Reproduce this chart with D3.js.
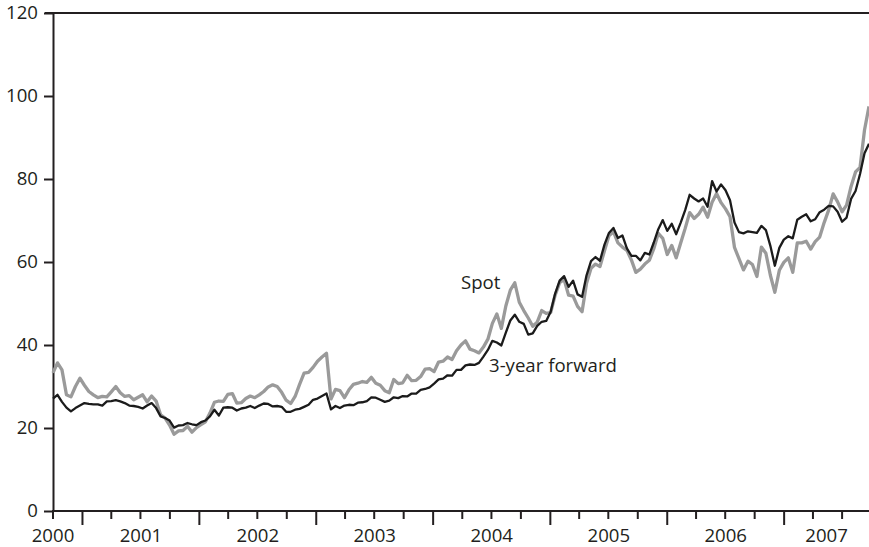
<!DOCTYPE html>
<html>
<head>
<meta charset="utf-8">
<script src="https://cdn.jsdelivr.net/npm/d3@7/dist/d3.min.js"></script>
<style>
  html, body { margin: 0; padding: 0; background: #fff; }
  svg { display: block; }
  text { font-family: "Open Sans", "Noto Sans", sans-serif; fill: #231f20; }
</style>
</head>
<body>
<svg id="chart" width="869" height="547"></svg>
<script>
// ---- data (biweekly observations, Oct 2000 – Sep 2007) ----
const startDate = "2000-10-01";
const stepDays = 14;

const spot = [
  33.3, 35.7, 34, 28, 27.5, 30, 32, 30.3, 28.8, 28,
  27.3, 27.6, 27.5, 28.7, 30, 28.5, 27.6, 27.8, 26.8, 27.4,
  28, 26.3, 27.7, 26.5, 23.2, 22.4, 20.7, 18.5, 19.3, 19.4,
  20.4, 19, 20.1, 20.8, 21.5, 23.6, 26.2, 26.5, 26.4, 28.1,
  28.3, 26, 26.1, 27.1, 27.7, 27.3, 28, 28.8, 29.9, 30.4,
  30, 28.6, 26.7, 25.9, 27.6, 30.5, 33.2, 33.4, 34.6, 36.1,
  37.1, 38, 27, 29.3, 29, 27.3, 29.2, 30.5, 30.8, 31.2,
  31, 32.2, 30.8, 30.3, 29, 28.5, 31.7, 30.7, 30.9, 32.7,
  31.4, 31.5, 32.4, 34.2, 34.3, 33.6, 35.9, 36.1, 37.1, 36.5,
  38.6, 40, 41, 39, 38.6, 38.1, 39.5, 41.4, 45.2, 47.5,
  44, 49.4, 53.2, 55, 50.3, 48.3, 46.5, 44.5, 45.5, 48.3,
  47.6, 47.8, 52, 55, 55.8, 52, 51.8, 49.3, 48, 54.9,
  58.5, 59.5, 58.9, 62.7, 66.3, 67.3, 64.6, 63.6, 62.8, 60.5,
  57.5, 58.3, 59.5, 60.4, 63.2, 66.9, 65.7, 61.8, 64, 61,
  64.6, 68.1, 71.9, 70.5, 71.5, 73.2, 70.8, 74.4, 76.5, 74.3,
  72.8, 70.9, 63.5, 60.8, 58.1, 60.2, 59.4, 56.5, 63.6, 62.1,
  56.8, 52.7, 58, 59.9, 61, 57.5, 64.6, 64.6, 65, 63.1,
  64.9, 66, 69.5, 72.5, 76.4, 74.5, 72.1, 73.7, 78.2, 81.7,
  82.8, 91.8, 97.5
];

const forward = [
  27.1, 28, 26.3, 24.9, 24, 24.8, 25.4, 26, 25.8, 25.7,
  25.7, 25.4, 26.4, 26.5, 26.7, 26.4, 26, 25.4, 25.3, 25.1,
  24.7, 25.4, 26, 24.8, 22.8, 22.4, 21.8, 20.1, 20.6, 20.7,
  21.2, 20.9, 20.7, 21.4, 21.8, 22.8, 24.4, 23, 24.9, 25,
  24.9, 24.2, 24.7, 24.9, 25.3, 24.8, 25.4, 25.9, 25.8, 25.2,
  25.3, 25.1, 23.9, 23.9, 24.4, 24.6, 25.1, 25.6, 26.8, 27.1,
  27.7, 28.3, 24.5, 25.3, 24.8, 25.4, 25.6, 25.5, 26.1, 26.2,
  26.5, 27.4, 27.3, 26.8, 26.3, 26.6, 27.4, 27.2, 27.7, 27.6,
  28.3, 28.3, 29.2, 29.4, 29.8, 30.7, 31.7, 31.9, 32.7, 32.6,
  34, 34, 35.1, 35.3, 35.2, 35.7, 37.2, 38.8, 41, 40.6,
  39.9, 43, 45.9, 47.3, 45.6, 45.1, 42.5, 42.8, 44.6, 45.6,
  45.8, 48, 52.4, 55.5, 56.6, 54, 55.5, 52.2, 51.6, 56.8,
  60.2, 61.2, 60.3, 64.2, 67, 68.2, 65.8, 66.4, 63.3, 61.5,
  61.5, 60.4, 62.2, 61.8, 64.7, 67.9, 70.1, 67.5, 69.2, 66.7,
  69.5, 72.5, 76.2, 75.3, 74.6, 75.3, 73.3, 79.5, 77, 78.7,
  77.3, 74.9, 69.5, 67.2, 66.9, 67.4, 67.2, 67, 68.7, 67.7,
  63.9, 59.1, 63.4, 65.4, 66.2, 65.7, 70.2, 70.9, 71.5, 69.8,
  70.3, 72, 72.6, 73.5, 73.4, 72.1, 69.7, 70.7, 75.2, 77.1,
  81.2, 86.2, 88.5
];

const yTicks = [0, 20, 40, 60, 80, 100, 120];
const yearLabels = ["2000", "2001", "2002", "2003", "2004", "2005", "2006", "2007"];
const seriesLabels = ["Spot", "3-year forward"];

// ---- layout ----
const M = { left: 53, right: 869, top: 13, bottom: 511 };
const ink = "#231f20";
const fs = 18.6;

const svg = d3.select("#chart");
const parse = d3.timeParse("%Y-%m-%d");
const t0 = parse(startDate);
const dates = spot.map((_, i) => d3.timeDay.offset(t0, i * stepDays));

const x = d3.scaleTime().domain([dates[0], dates[dates.length - 1]]).range([M.left, M.right]);
const y = d3.scaleLinear().domain([0, 120]).range([M.bottom, M.top]);

// top frame line
svg.append("line")
  .attr("x1", M.left - 8).attr("x2", M.right)
  .attr("y1", y(120)).attr("y2", y(120))
  .attr("stroke", ink).attr("stroke-width", 2);

// y axis
const yAxis = d3.axisLeft(y).tickValues(yTicks).tickSize(9).tickPadding(6).tickSizeOuter(0);
const gy = svg.append("g").attr("transform", `translate(${M.left},0)`).call(yAxis);
gy.select(".domain").attr("stroke", ink).attr("stroke-width", 2);
gy.selectAll(".tick line").attr("stroke", ink).attr("stroke-width", 2);
gy.selectAll(".tick text").attr("font-size", fs).attr("fill", ink)
  .attr("font-family", '"Open Sans", sans-serif');

// x axis with quarterly ticks, longer at year boundaries
const [d0, d1] = x.domain();
const quarterTicks = d3.timeMonth.every(3).range(d0, d3.timeDay.offset(d1, 1));
const gx = svg.append("g");
gx.append("line")
  .attr("x1", M.left - 1).attr("x2", M.right)
  .attr("y1", M.bottom).attr("y2", M.bottom)
  .attr("stroke", ink).attr("stroke-width", 2);
gx.selectAll("line.qt").data(quarterTicks).join("line")
  .attr("class", "qt")
  .attr("x1", d => x(d)).attr("x2", d => x(d))
  .attr("y1", M.bottom).attr("y2", d => M.bottom + (d.getMonth() === 0 ? 14 : 8))
  .attr("stroke", ink).attr("stroke-width", 2);

// year labels: centred in the visible part of each year (first at axis origin)
gx.selectAll("text.yr").data(yearLabels).join("text")
  .attr("class", "yr")
  .attr("x", (yr, i) => {
    if (i === 0) return M.left;
    const a = new Date(+yr, 0, 1), b = new Date(+yr + 1, 0, 1);
    const s = a < d0 ? d0 : a, e = b > d1 ? d1 : b;
    return (x(s) + x(e)) / 2;
  })
  .attr("y", 542)
  .attr("text-anchor", "middle")
  .attr("font-size", fs)
  .text(d => d);

// series lines
const line = d3.line().x((d, i) => x(dates[i])).y(d => y(d));
svg.append("path").datum(spot)
  .attr("d", line).attr("fill", "none")
  .attr("stroke", "#9a9a9a").attr("stroke-width", 3.3).attr("stroke-linejoin", "round");
svg.append("path").datum(forward)
  .attr("d", line).attr("fill", "none")
  .attr("stroke", "#1b1b1b").attr("stroke-width", 2.3).attr("stroke-linejoin", "round");

// series labels
svg.append("text").attr("x", 461).attr("y", 289).attr("font-size", fs).text(seriesLabels[0]);
svg.append("text").attr("x", 489).attr("y", 372).attr("font-size", fs).text(seriesLabels[1]);
</script>
</body>
</html>
